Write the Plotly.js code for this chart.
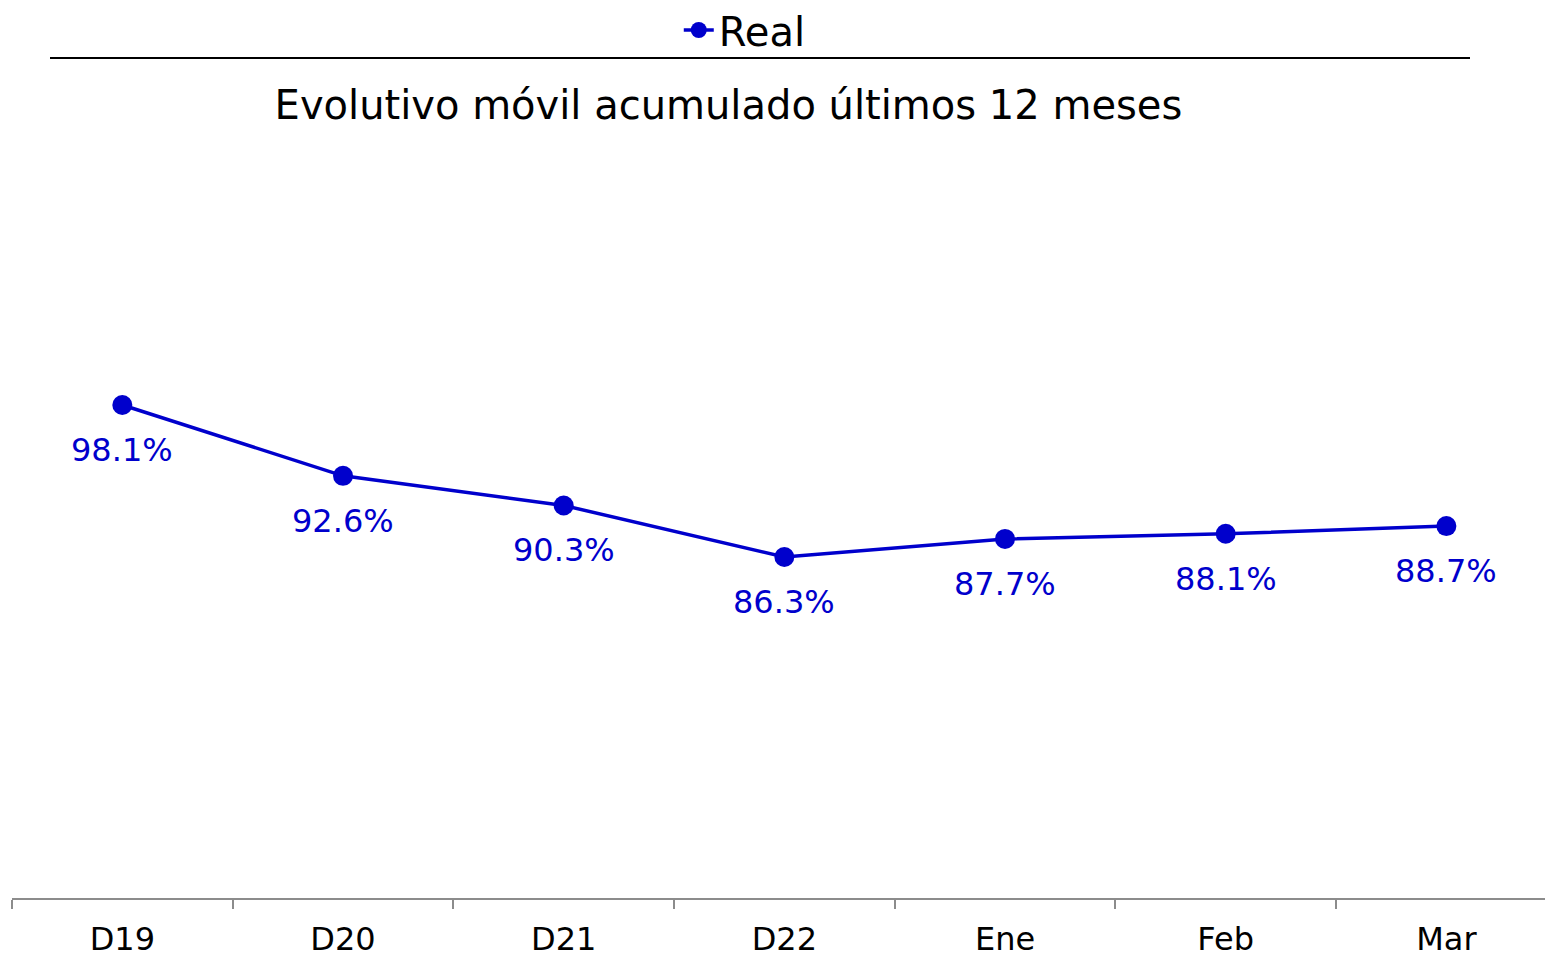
<!DOCTYPE html>
<html>
<head>
<meta charset="utf-8">
<script src="https://cdn.plot.ly/plotly-3.0.1.min.js"></script>
<style>html,body{margin:0;padding:0;background:#fff;}#chart{width:1545px;height:958px;}</style>
</head>
<body>
<div id="chart"></div>
<script>
const categories = ["D19", "D20", "D21", "D22", "Ene", "Feb", "Mar"];
const realValues = [98.1, 92.6, 90.3, 86.3, 87.7, 88.1, 88.7];
const seriesName = "Real";
const chartTitle = "Evolutivo móvil acumulado últimos 12 meses";

const blue = "#0000CC";
const font = "DejaVu Sans, Verdana, sans-serif";

const trace = {
  x: categories,
  y: realValues,
  type: "scatter",
  mode: "lines+markers",
  name: seriesName,
  line: {color: blue, width: 3.5},
  marker: {color: blue, size: 20},
  hoverinfo: "x+y"
};

const annotations = categories.map((c, i) => ({
  x: c, y: realValues[i], xref: "x", yref: "y",
  text: realValues[i].toFixed(1) + "%",
  showarrow: false, yshift: -45,
  font: {family: font, size: 32, color: blue}
}));

const layout = {
  width: 1545, height: 958,
  margin: {l: 12, r: 0, t: 150, b: 60, autoexpand: false},
  paper_bgcolor: "#fff", plot_bgcolor: "#fff",
  font: {family: font, color: "#000"},
  title: {text: chartTitle, font: {family: font, size: 40, color: "#000"},
          x: 0.4715, xanchor: "center", y: 1 - 105/958, yanchor: "middle", yref: "container"},
  showlegend: true,
  legend: {orientation: "h", x: 0.478, xanchor: "center", y: (898-30)/748, yanchor: "middle",
           font: {family: font, size: 40, color: "#000"}, bgcolor: "rgba(0,0,0,0)"},
  xaxis: {
    type: "category", range: [-0.5, 6.447],
    showline: true, linecolor: "#8c8c8c", linewidth: 2,
    ticks: "outside", ticklen: 9, tickcolor: "#8c8c8c", tickwidth: 2,
    tickson: "boundaries", showgrid: false, zeroline: false,
    tickfont: {family: font, size: 32, color: "#000"}, ticklabelstandoff: 12
  },
  yaxis: {range: [59.82, 117.9], visible: false, showgrid: false, zeroline: false},
  shapes: [{type: "line", xref: "paper", yref: "paper",
            x0: (50-12)/1533, x1: (1470-12)/1533, y0: (898-58)/748, y1: (898-58)/748,
            line: {color: "#000", width: 2}}],
  annotations: annotations
};

Plotly.newPlot("chart", [trace], layout, {displayModeBar: false, responsive: false});
</script>
</body>
</html>
